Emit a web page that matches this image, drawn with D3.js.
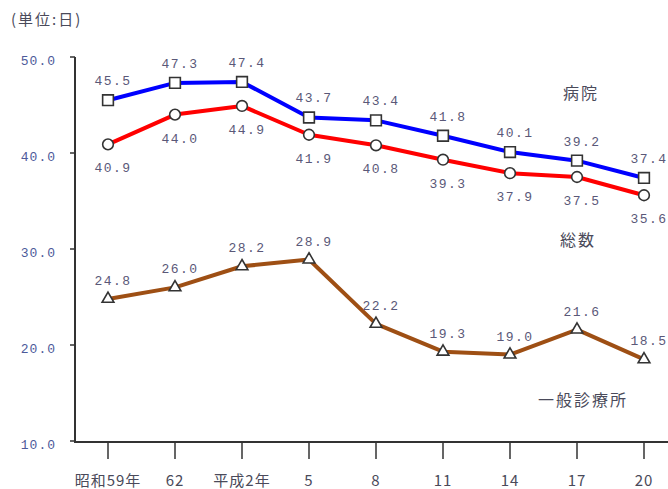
<!DOCTYPE html>
<html>
<head>
<meta charset="utf-8">
<script src="https://cdn.jsdelivr.net/npm/d3@7"></script>
<style>
  body { margin: 0; background: #fff; }
  svg { display: block; }
  .num { font-family: "Liberation Mono", "DejaVu Sans Mono", monospace; font-size: 13px; letter-spacing: 1.5px; fill: #5a5878; }
  .ytick { font-family: "Liberation Mono", "DejaVu Sans Mono", monospace; font-size: 13px; letter-spacing: 1px; fill: #4d5a9a; }
  .cjk { font-family: "Noto Sans CJK JP", sans-serif; fill: #4a4a5a; }
</style>
</head>
<body>
<svg width="668" height="489"></svg>
<script>
// 年次
const years = ["昭和59年", "62", "平成2年", "5", "8", "11", "14", "17", "20"];
// 平均在院日数
const hospital = [45.5, 47.3, 47.4, 43.7, 43.4, 41.8, 40.1, 39.2, 37.4];   // 病院
const total = [40.9, 44.0, 44.9, 41.9, 40.8, 39.3, 37.9, 37.5, 35.6];      // 総数
const clinic = [24.8, 26.0, 28.2, 28.9, 22.2, 19.3, 19.0, 21.6, 18.5];     // 一般診療所
const yTicks = [10, 20, 30, 40, 50];

const svg = d3.select("svg");

const x = d3.scalePoint()
    .domain(years)
    .range([108, 644]);

const y = d3.scaleLinear()
    .domain([10, 50])
    .range([441, 57]);

// 単位
svg.append("text")
    .attr("class", "cjk")
    .attr("x", 11)
    .attr("y", 25)
    .style("font-size", "15px")
    .style("letter-spacing", "2px")
    .text("(単位:日)");

// y axis
svg.append("line")
    .attr("x1", 75).attr("x2", 75)
    .attr("y1", y(50)).attr("y2", y(10) + 1)
    .attr("stroke", "#333").attr("stroke-width", 2);

svg.selectAll(".yt")
    .data(yTicks)
    .enter().append("line")
    .attr("x1", 70).attr("x2", 75)
    .attr("y1", d => y(d)).attr("y2", d => y(d))
    .attr("stroke", "#333").attr("stroke-width", 1.5);

svg.selectAll(".ytl")
    .data(yTicks)
    .enter().append("text")
    .attr("class", "ytick")
    .attr("x", 56)
    .attr("y", d => y(d) + 8)
    .attr("text-anchor", "end")
    .text(d => d3.format(".1f")(d));

// x axis
svg.append("line")
    .attr("x1", 74).attr("x2", 668)
    .attr("y1", y(10) + 1).attr("y2", y(10) + 1)
    .attr("stroke", "#333").attr("stroke-width", 2);

svg.selectAll(".xt")
    .data(years)
    .enter().append("line")
    .attr("x1", d => x(d)).attr("x2", d => x(d))
    .attr("y1", y(10) + 1).attr("y2", y(10) + 18)
    .attr("stroke", "#333").attr("stroke-width", 1.5);

svg.selectAll(".xtl")
    .data(years)
    .enter().append("text")
    .attr("class", "cjk")
    .attr("x", d => x(d))
    .attr("y", 486)
    .attr("text-anchor", "middle")
    .style("font-size", "15px")
    .style("letter-spacing", "1px")
    .text(d => d);

const line = d3.line()
    .x((d, i) => x(years[i]))
    .y(d => y(d));

function drawSeries(values, color, shape, labelDy) {
    svg.append("path")
        .datum(values)
        .attr("fill", "none")
        .attr("stroke", color)
        .attr("stroke-width", 4)
        .attr("stroke-linejoin", "round")
        .attr("d", line);

    svg.append("g").selectAll("path")
        .data(values)
        .enter().append("path")
        .attr("transform", (d, i) => `translate(${x(years[i])},${y(d)})`)
        .attr("d", d3.symbol().type(shape).size(shape === d3.symbolCircle ? 90 : shape === d3.symbolTriangle ? 60 : 115))
        .attr("fill", "#fff")
        .attr("stroke", "#333")
        .attr("stroke-width", 1.6);

    svg.append("g").selectAll("text")
        .data(values)
        .enter().append("text")
        .attr("class", "num")
        .attr("x", (d, i) => x(years[i]) + 5)
        .attr("y", d => y(d) + labelDy)
        .attr("text-anchor", "middle")
        .text(d => d3.format(".1f")(d));
}

drawSeries(hospital, "#0000ff", d3.symbolSquare, -15);
drawSeries(total, "#ff0000", d3.symbolCircle, 28);
drawSeries(clinic, "#9e4f14", d3.symbolTriangle, -14);

// 系列名
const names = [
    {t: "病院", x: 581, y: 99},
    {t: "総数", x: 578, y: 246},
    {t: "一般診療所", x: 583, y: 406}
];
svg.selectAll(".nm")
    .data(names)
    .enter().append("text")
    .attr("class", "cjk")
    .attr("x", d => d.x)
    .attr("y", d => d.y)
    .attr("text-anchor", "middle")
    .style("font-size", "16px")
    .style("letter-spacing", "2px")
    .text(d => d.t);
</script>
</body>
</html>
